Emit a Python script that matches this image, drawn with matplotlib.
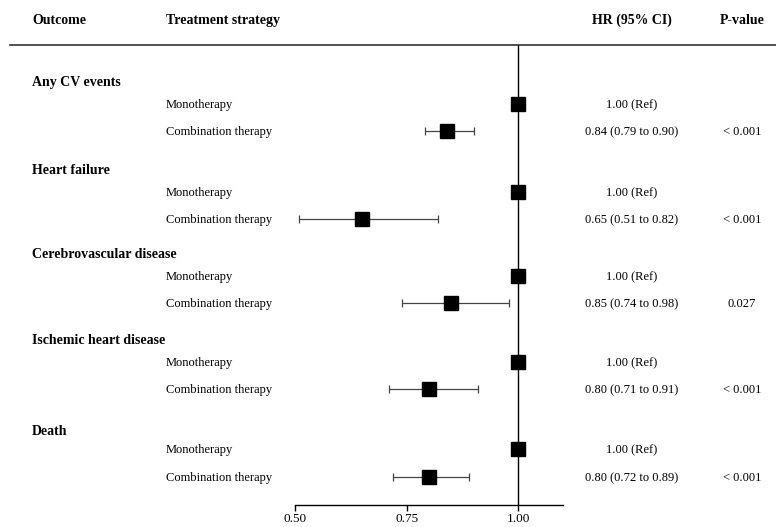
import matplotlib
matplotlib.use("Agg")
import matplotlib.pyplot as plt
from matplotlib.lines import Line2D
from matplotlib.transforms import blended_transform_factory

plt.rcParams['font.family'] = ['Liberation Serif', 'DejaVu Serif']

outcomes = ["Any CV events", "Heart failure", "Cerebrovascular disease",
            "Ischemic heart disease", "Death"]
strategies = ["Monotherapy", "Combination therapy"]
hr_combo = [0.84, 0.65, 0.85, 0.80, 0.80]
lo_combo = [0.79, 0.51, 0.74, 0.71, 0.72]
hi_combo = [0.90, 0.82, 0.98, 0.91, 0.89]
hr_text = ["0.84 (0.79 to 0.90)", "0.65 (0.51 to 0.82)", "0.85 (0.74 to 0.98)",
           "0.80 (0.71 to 0.91)", "0.80 (0.72 to 0.89)"]
p_text = ["< 0.001", "< 0.001", "0.027", "< 0.001", "< 0.001"]
ticks = [0.50, 0.75, 1.00]

W, H = 776, 527
fig = plt.figure(figsize=(W / 100, H / 100), dpi=100)

# forest axes; y runs in pixel rows so text lines up with the marks
ax_top, ax_bot = 45, 505
ax = fig.add_axes([295 / W, (H - ax_bot) / H, (563 - 295) / W, (ax_bot - ax_top) / H])
ax.set_xlim(0.5, 1.10)
ax.set_ylim(ax_bot, ax_top)

group_y = [82, 170, 254, 340, 431]
mono_off, comb_off = 22, 49
mono_off_last, comb_off_last = 18, 46

fs = 9
bl = 4   # baseline offset (px) so text looks centred on the row
tr = blended_transform_factory(fig.transFigure, ax.transData)

for i, name in enumerate(outcomes):
    gy = group_y[i]
    if i == len(outcomes) - 1:
        ym, yc = gy + mono_off_last, gy + comb_off_last
    else:
        ym, yc = gy + mono_off, gy + comb_off
    ax.text(32 / W, gy + bl, name, transform=tr, fontsize=fs + 1, fontweight='bold', va='baseline')
    ax.text(166 / W, ym + bl, strategies[0], transform=tr, fontsize=fs, va='baseline')
    ax.text(166 / W, yc + bl, strategies[1], transform=tr, fontsize=fs, va='baseline')
    ax.text(632 / W, ym + bl, "1.00 (Ref)", transform=tr, fontsize=fs, va='baseline', ha='center')
    ax.text(632 / W, yc + bl, hr_text[i], transform=tr, fontsize=fs, va='baseline', ha='center')
    ax.text(742 / W, yc + bl, p_text[i], transform=tr, fontsize=fs, va='baseline', ha='center')

    ax.plot(1.0, ym, marker='s', color='black', markersize=9.5, zorder=3)
    ax.errorbar(hr_combo[i], yc,
                xerr=[[hr_combo[i] - lo_combo[i]], [hi_combo[i] - hr_combo[i]]],
                fmt='s', color='black', ecolor='#444444', elinewidth=0.9,
                capsize=3, capthick=0.9, markersize=9.5, zorder=3)

# reference line at HR = 1
ax.axvline(1.0, color='black', lw=1.0, zorder=2)

# header
hy = 20 + bl
ax.text(32 / W, hy, "Outcome", transform=tr, fontsize=fs + 1, fontweight='bold', va='baseline')
ax.text(166 / W, hy, "Treatment strategy", transform=tr, fontsize=fs + 1, fontweight='bold', va='baseline')
ax.text(632 / W, hy, "HR (95% CI)", transform=tr, fontsize=fs + 1, fontweight='bold', va='baseline', ha='center')
ax.text(742 / W, hy, "P-value", transform=tr, fontsize=fs + 1, fontweight='bold', va='baseline', ha='center')
fig.add_artist(Line2D([10 / W, 1.0], [(H - ax_top) / H] * 2, color='#333333', lw=1.2))

for s in ['top', 'right', 'left']:
    ax.spines[s].set_visible(False)
ax.spines['bottom'].set_linewidth(1.0)
ax.set_yticks([])
ax.set_xticks(ticks)
ax.set_xticklabels(["%.2f" % t for t in ticks], fontsize=fs + 0.5)
ax.tick_params(axis='x', length=4, width=1.0, pad=1.5)

fig.savefig("out.png", dpi=100)
